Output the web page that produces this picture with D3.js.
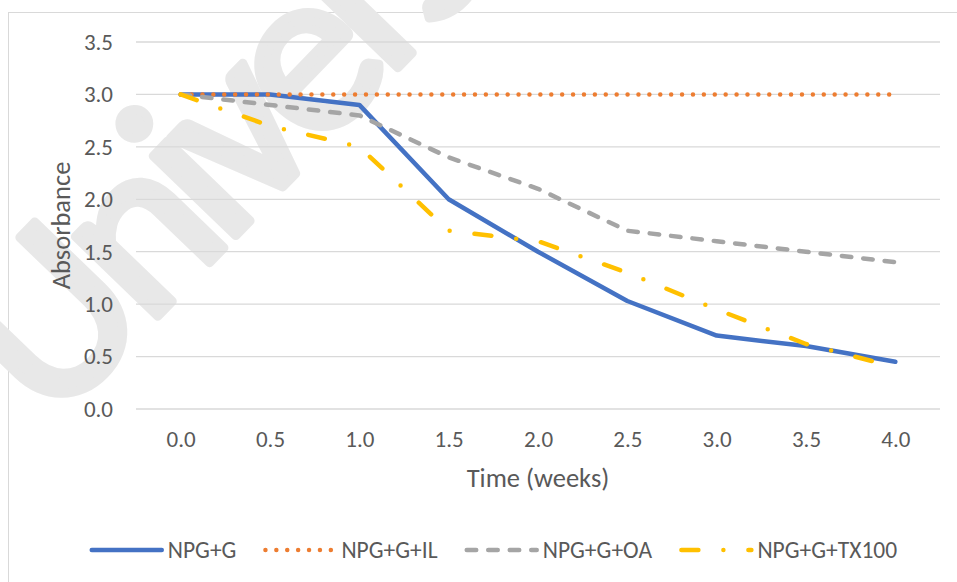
<!DOCTYPE html>
<html>
<head>
<meta charset="utf-8">
<script src="https://cdn.jsdelivr.net/npm/d3@7/dist/d3.min.js"></script>
<style>
  html, body { margin: 0; padding: 0; background: #fff; }
  svg { display: block; }
  text { font-family: Carlito, Calibri, Lato, sans-serif; fill: #595959; }
</style>
</head>
<body>
<svg id="chart" width="957" height="582"></svg>
<script>
// Time points (weeks) on the category axis
const weeks = ["0.0", "0.5", "1.0", "1.5", "2.0", "2.5", "3.0", "3.5", "4.0"];

// Absorbance readings for each formulation
const npgG      = [3.0, 3.0, 2.9, 2.0, 1.5, 1.03, 0.7, 0.6, 0.45];
const npgGIL    = [3.0, 3.0, 3.0, 3.0, 3.0, 3.0, 3.0, 3.0, 3.0];
const npgGOA    = [3.0, 2.9, 2.8, 2.4, 2.1, 1.7, 1.6, 1.5, 1.4];
const npgGTX100 = [3.0, 2.7, 2.5, 1.7, 1.6, 1.3, 0.95, 0.62, 0.4];

const seriesNames = ["NPG+G", "NPG+G+IL", "NPG+G+OA", "NPG+G+TX100"];
const yTicks = [0, 0.5, 1.0, 1.5, 2.0, 2.5, 3.0, 3.5];

// Line styles for each series (solid, round dot, dash, long dash-dot)
const styles = [
  { color: "#4472C4", dash: null },
  { color: "#ED7D31", dash: "0 10.9" },
  { color: "#A5A5A5", dash: "9.5 12" },
  { color: "#FFC000", dash: "17 25 0 25" }
];

const series = [npgG, npgGIL, npgGOA, npgGTX100].map((vals, i) => ({
  name: seriesNames[i],
  values: vals.map((v, j) => ({ week: weeks[j], value: v })),
  style: styles[i]
}));

const svg = d3.select("#chart");
const FONT = "Carlito, Calibri, Lato, sans-serif";

// Chart frame
svg.append("rect")
  .attr("x", 8.5).attr("y", 12.5)
  .attr("width", 1000).attr("height", 600)
  .attr("fill", "#fff")
  .attr("stroke", "#D9D9D9")
  .attr("stroke-width", 1);

// Watermark
svg.append("text")
  .attr("transform", "translate(50,428) rotate(-46)")
  .style("font-size", "240px")
  .style("letter-spacing", "-15px")
  .style("font-weight", "400")
  .style("fill", "#E8E8E8")
  .style("stroke", "#E8E8E8")
  .style("stroke-width", 9)
  .style("stroke-linejoin", "round")
  .text("University");

const plot = { left: 136, right: 940, top: 42, bottom: 409 };

const x = d3.scalePoint()
  .domain(weeks)
  .range([plot.left, plot.right])
  .padding(0.5);

const y = d3.scaleLinear()
  .domain([0, 3.5])
  .range([plot.bottom, plot.top]);

// Horizontal gridlines
svg.append("g")
  .selectAll("line")
  .data(yTicks)
  .join("line")
  .attr("x1", plot.left).attr("x2", plot.right)
  .attr("y1", d => y(d)).attr("y2", d => y(d))
  .attr("stroke", "#D9D9D9")
  .attr("stroke-width", 1.3);

// Y axis labels
const yAxis = svg.append("g")
  .attr("transform", `translate(${plot.left - 23},0)`)
  .call(d3.axisLeft(y).tickValues(yTicks).tickFormat(d3.format(".1f")).tickSize(0).tickPadding(0));
yAxis.select(".domain").remove();
yAxis.selectAll("text")
  .style("font-size", "23px")
  .style("fill", "#595959")
  .style("font-family", FONT);

// X axis labels
const xAxis = svg.append("g")
  .attr("transform", `translate(0,${plot.bottom + 22})`)
  .call(d3.axisBottom(x).tickSize(0).tickPadding(0));
xAxis.select(".domain").remove();
xAxis.selectAll("text")
  .style("font-size", "23px")
  .style("fill", "#595959")
  .style("font-family", FONT);

// Axis titles
svg.append("text")
  .attr("x", (plot.left + plot.right) / 2)
  .attr("y", 487)
  .attr("text-anchor", "middle")
  .style("font-size", "26.5px")
  .text("Time (weeks)");

svg.append("text")
  .attr("transform", `translate(70,${(plot.top + plot.bottom) / 2}) rotate(-90)`)
  .attr("text-anchor", "middle")
  .style("font-size", "26.5px")
  .text("Absorbance");

// Series lines
const line = d3.line()
  .x(d => x(d.week))
  .y(d => y(d.value));

svg.append("g")
  .selectAll("path")
  .data(series)
  .join("path")
  .attr("d", d => line(d.values))
  .attr("fill", "none")
  .attr("stroke", d => d.style.color)
  .attr("stroke-width", 4.5)
  .attr("stroke-linecap", "round")
  .attr("stroke-linejoin", "round")
  .attr("stroke-dasharray", d => d.style.dash);

// Legend
const legendY = 550;
const sampleLen = 70;
const items = svg.append("g")
  .selectAll("g")
  .data(series)
  .join("g");

items.append("line")
  .attr("x1", 0).attr("x2", sampleLen)
  .attr("y1", 0).attr("y2", 0)
  .attr("stroke", d => d.style.color)
  .attr("stroke-width", 4.5)
  .attr("stroke-linecap", "round")
  .attr("stroke-dasharray", d => d.style.dash);

items.append("text")
  .attr("x", sampleLen + 6)
  .attr("y", 8)
  .style("font-size", "23.5px")
  .text(d => d.name);

// Place legend entries side by side, centred under the chart
const gap = 29;
const widths = items.nodes().map(n => n.getBBox().width);
const total = d3.sum(widths) + gap * (widths.length - 1);
const start = 494.5 - total / 2;
items.attr("transform", (d, i) => {
  const tx = start + d3.sum(widths.slice(0, i)) + gap * i;
  return `translate(${tx},${legendY})`;
});
</script>
</body>
</html>
